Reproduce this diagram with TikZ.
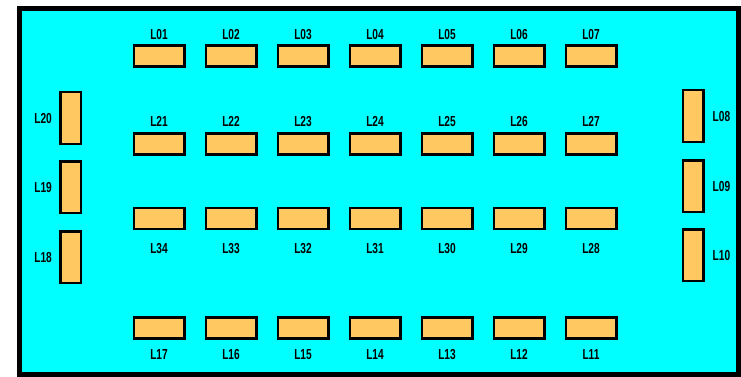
\documentclass[tikz,border=0pt]{standalone}
\usepackage{fontspec}
\newfontfamily\schild{Liberation Sans Bold}[FakeStretch=0.7]
\usetikzlibrary{positioning}

\definecolor{feld}{HTML}{00FFFF}
\definecolor{leuchte}{HTML}{FFC860}

\begin{document}
\begin{tikzpicture}[x=1pt,y=-1pt,
    quer/.style={draw, line width=2.5pt, fill=leuchte, minimum width=50.5pt, minimum height=21pt, inner sep=0pt},
    hoch/.style={draw, line width=2.5pt, fill=leuchte, minimum width=20.5pt, minimum height=51.5pt, inner sep=0pt},
    nr/.style={font=\schild\fontsize{14.5}{14.5}\selectfont, inner sep=0pt, text height=10.3pt, text depth=0pt}]
    \useasboundingbox (0,0) rectangle (741,377);

    %Rahmen
    \draw[line width=5pt, fill=feld] (19,9) rectangle (738,374);

    %Reihen
    \foreach[count=\i from 0] \a/\b/\c/\d in {01/21/34/17, 02/22/33/16, 03/23/32/15, 04/24/31/14, 05/25/30/13, 06/26/29/12, 07/27/28/11} {
        \node[quer] (L\a) at (159+72*\i,56) {};
        \node[nr, above=5pt of L\a] (nL\a) {L\a};
        \node[quer] (L\b) at (159+72*\i,144) {};
        \node[nr, above=6pt of L\b] (nL\b) {L\b};
        \node[quer] (L\c) at (159+72*\i,218.5) {};
        \node[nr, below=13pt of L\c] (nL\c) {L\c};
        \node[quer] (L\d) at (159+72*\i,328) {};
        \node[nr, below=9pt of L\d] (nL\d) {L\d};
    }

    %links
    \foreach \a/\y in {20/118, 19/187, 18/257} {
        \node[hoch] (L\a) at (70.5,\y) {};
        \node[nr, left=7pt of L\a] (nL\a) {L\a};
    }
    %rechts
    \foreach \a/\y in {08/116, 09/186, 10/255} {
        \node[hoch] (L\a) at (693,\y) {};
        \node[nr, right=8pt of L\a] (nL\a) {L\a};
    }
\end{tikzpicture}
\end{document}
